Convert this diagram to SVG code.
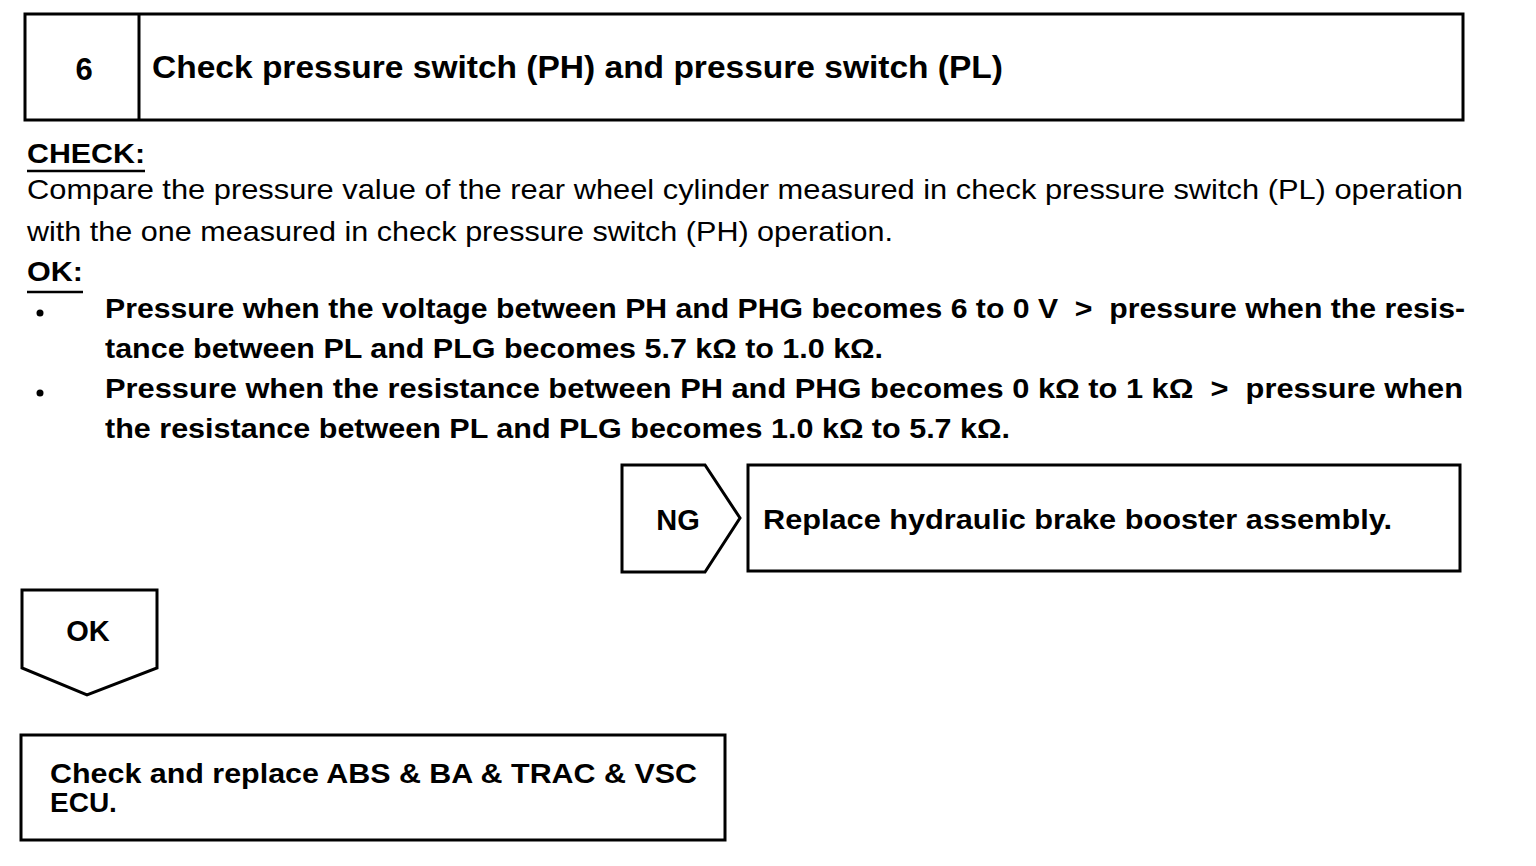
<svg xmlns="http://www.w3.org/2000/svg" width="1536" height="866" viewBox="0 0 1536 866">
<style>
.box{fill:#fff;stroke:#000;stroke-width:3}
.t{font-family:"Liberation Sans",Arial,sans-serif;fill:#000}
.b{font-weight:bold}
.pre{white-space:pre}
.ln{stroke:#000;stroke-width:2.5}
</style>
<rect width="1536" height="866" fill="#fff"/>
<g id="header">
<rect class="box" x="25" y="14" width="1438" height="106"/>
<line class="ln" x1="139" y1="14" x2="139" y2="120" style="stroke-width:3"/>
<text class="t b" x="84" y="80" font-size="31" text-anchor="middle">6</text>
<text class="t b" x="152" y="78" font-size="31" textLength="851" lengthAdjust="spacingAndGlyphs">Check pressure switch (PH) and pressure switch (PL)</text>
</g>
<g id="check">
<text class="t b" x="27" y="163" font-size="28" textLength="118" lengthAdjust="spacingAndGlyphs">CHECK:</text>
<line class="ln" x1="27" y1="171" x2="145" y2="171"/>
<text class="t" x="27" y="199" font-size="28" textLength="1436" lengthAdjust="spacingAndGlyphs">Compare the pressure value of the rear wheel cylinder measured in check pressure switch (PL) operation</text>
<text class="t" x="27" y="241" font-size="28" textLength="866" lengthAdjust="spacingAndGlyphs">with the one measured in check pressure switch (PH) operation.</text>
<text class="t b" x="27" y="281" font-size="28" textLength="56" lengthAdjust="spacingAndGlyphs">OK:</text>
<line class="ln" x1="27" y1="292" x2="83" y2="292"/>
<circle cx="40" cy="313" r="3.5"/>
<circle cx="40" cy="393" r="3.5"/>
<text class="t b pre" x="105" y="318" font-size="28" textLength="1360" lengthAdjust="spacingAndGlyphs">Pressure when the voltage between PH and PHG becomes 6 to 0 V  &gt;  pressure when the resis-</text>
<text class="t b" x="105" y="358" font-size="28" textLength="778" lengthAdjust="spacingAndGlyphs">tance between PL and PLG becomes 5.7 kΩ to 1.0 kΩ.</text>
<text class="t b pre" x="105" y="398" font-size="28" textLength="1358" lengthAdjust="spacingAndGlyphs">Pressure when the resistance between PH and PHG becomes 0 kΩ to 1 kΩ  &gt;  pressure when</text>
<text class="t b" x="105" y="438" font-size="28" textLength="905" lengthAdjust="spacingAndGlyphs">the resistance between PL and PLG becomes 1.0 kΩ to 5.7 kΩ.</text>
</g>
<g id="connectors">
<g id="ng">
<path class="box" d="M622 465 H705 L740 518 L705 572 H622 Z"/>
<text class="t b" x="678" y="530" font-size="29" text-anchor="middle">NG</text>
</g>
<g id="ok">
<path class="box" d="M22 590 H157 V668 L87 695 L22 668 Z"/>
<text class="t b" x="88" y="641" font-size="29" text-anchor="middle">OK</text>
</g>
</g>
<g id="replace-booster">
<rect class="box" x="748" y="465" width="712" height="106"/>
<text class="t b" x="763" y="529" font-size="28" textLength="629" lengthAdjust="spacingAndGlyphs">Replace hydraulic brake booster assembly.</text>
</g>
<g id="replace-ecu">
<rect class="box" x="21" y="735" width="704" height="105"/>
<text class="t b" x="50" y="783" font-size="28" textLength="647" lengthAdjust="spacingAndGlyphs">Check and replace ABS &amp; BA &amp; TRAC &amp; VSC</text>
<text class="t b" x="50" y="812" font-size="28">ECU.</text>
</g>
</svg>
